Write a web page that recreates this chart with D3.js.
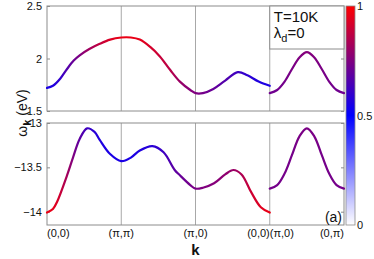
<!DOCTYPE html>
<html>
<head>
<meta charset="utf-8">
<script src="https://cdn.jsdelivr.net/npm/d3@7"></script>
<style>
  body { margin: 0; background: #fff; }
  svg { display: block; font-family: "Liberation Sans", Arial, sans-serif; }
</style>
</head>
<body>
<svg id="chart"></svg>
<script>
// path through the zone: (0,0) -> (pi,pi) -> (pi,0) -> (0,0) | (pi,0) -> (0,pi)
var kTickPos = [0, 1, 2, 3, 3, 4];
var kTickLabels = ["(0,0)", "(π,π)", "(π,0)", "(0,0)", "(π,0)", "(0,π)"];
var kTickAnchor = ["start", "middle", "middle", "end", "start", "end"];

// upper band, first section (k 0..3)
var kUpA = [0, 0.08, 0.18, 0.27, 0.36, 0.44, 0.57, 0.71, 0.85, 1.0, 1.13, 1.25, 1.39, 1.52, 1.66, 1.79, 1.93, 2.0, 2.1, 2.24, 2.4, 2.57, 2.7, 2.85, 3.0];
var eUpA = [1.72, 1.74, 1.81, 1.90, 1.98, 2.03, 2.09, 2.14, 2.18, 2.20, 2.20, 2.18, 2.11, 2.02, 1.89, 1.78, 1.70, 1.67, 1.67, 1.71, 1.79, 1.87, 1.84, 1.78, 1.74];
var wUpA = [0.55, 0.56, 0.6, 0.66, 0.71, 0.75, 0.82, 0.88, 0.93, 0.96, 0.96, 0.95, 0.92, 0.89, 0.86, 0.8, 0.76, 0.75, 0.73, 0.7, 0.66, 0.62, 0.59, 0.56, 0.55];

// upper band, second section (k 3..4)
var kB = [3.0, 3.1, 3.2, 3.3, 3.4, 3.5, 3.6, 3.7, 3.8, 3.9, 4.0];
var eUpB = [1.67, 1.70, 1.78, 1.90, 2.01, 2.06, 2.01, 1.90, 1.78, 1.70, 1.67];
var wUpB = [0.72, 0.72, 0.73, 0.74, 0.75, 0.76, 0.75, 0.74, 0.73, 0.72, 0.72];

// lower band, first section
var kLoA = [0, 0.08, 0.135, 0.27, 0.35, 0.44, 0.54, 0.64, 0.71, 0.85, 1.0, 1.13, 1.25, 1.42, 1.57, 1.72, 1.79, 1.93, 2.0, 2.1, 2.25, 2.4, 2.51, 2.62, 2.75, 2.88, 3.0];
var eLoA = [-14.01, -13.97, -13.89, -13.59, -13.39, -13.18, -13.06, -13.10, -13.19, -13.35, -13.43, -13.39, -13.31, -13.26, -13.33, -13.53, -13.59, -13.70, -13.74, -13.73, -13.68, -13.58, -13.53, -13.58, -13.78, -13.95, -14.01];
var wLoA = [0.96, 0.95, 0.93, 0.82, 0.75, 0.68, 0.62, 0.58, 0.56, 0.55, 0.55, 0.55, 0.56, 0.58, 0.62, 0.68, 0.7, 0.73, 0.74, 0.75, 0.76, 0.78, 0.8, 0.84, 0.9, 0.94, 0.96];

// lower band, second section
var eLoB = [-13.74, -13.70, -13.57, -13.36, -13.15, -13.06, -13.15, -13.36, -13.57, -13.70, -13.74];
var wLoB = [0.73, 0.73, 0.73, 0.73, 0.74, 0.74, 0.74, 0.73, 0.73, 0.73, 0.73];

var topTicks = [1.5, 2, 2.5];
var botTicks = [-14, -13.5, -13];
var cbarTicks = [0, 0.5, 1];

var width = 374, height = 259;
var frameColor = "#8c8c8c";

var svg = d3.select("#chart").attr("width", width).attr("height", height);
var defs = svg.append("defs");

var x = d3.scaleLinear().domain([0, 4]).range([47, 344]);
var yTop = d3.scaleLinear().domain([1.5, 2.5]).range([111, 6]);
var yBot = d3.scaleLinear().domain([-14.15, -13]).range([225, 123]);
var color = d3.scaleLinear().domain([0, 0.5, 1]).range(["#ffffff", "#0000ff", "#ff0000"]);
var yCbar = d3.scaleLinear().domain([0, 1]).range([225, 6]);

var fmt = d3.format("~g");

function panel(y, ticks) {
  var g = svg.append("g");
  // vertical lines at the symmetry points
  g.selectAll("line.sym")
    .data([1, 2, 3])
    .enter()
    .append("line")
    .attr("x1", function (d) { return x(d); })
    .attr("x2", function (d) { return x(d); })
    .attr("y1", y.range()[0])
    .attr("y2", y.range()[1])
    .attr("stroke", "#a8a8a8")
    .attr("stroke-width", 1);

  var left = g.append("g")
    .attr("transform", "translate(" + x(0) + ",0)")
    .call(d3.axisLeft(y).tickValues(ticks).tickFormat(fmt).tickSize(-3).tickPadding(5));
  left.select(".domain").remove();
  left.selectAll("line").attr("stroke", frameColor);
  left.selectAll("text").attr("font-size", 11).attr("fill", "#111")
    .attr("font-family", "Liberation Sans, Arial, sans-serif");

  var right = g.append("g")
    .attr("transform", "translate(" + x(4) + ",0)")
    .call(d3.axisRight(y).tickValues(ticks).tickSize(-3).tickFormat(""));
  right.select(".domain").remove();
  right.selectAll("line").attr("stroke", frameColor);

  g.append("rect")
    .attr("x", x(0))
    .attr("y", y.range()[1])
    .attr("width", x(4) - x(0))
    .attr("height", y.range()[0] - y.range()[1])
    .attr("fill", "none")
    .attr("stroke", frameColor)
    .attr("stroke-width", 1);
  return g;
}

var gTop = panel(yTop, topTicks);
var gBot = panel(yBot, botTicks);

// text box in the upper panel
gTop.append("rect")
  .attr("x", x(3))
  .attr("y", yTop(2.5))
  .attr("width", x(4) - x(3))
  .attr("height", 43)
  .attr("fill", "#fff")
  .attr("stroke", frameColor);

var gradId = 0;
function band(g, y, ks, es, ws) {
  var id = "grad" + (gradId++);
  var x1 = x(ks[0]), x2 = x(ks[ks.length - 1]);
  var grad = defs.append("linearGradient")
    .attr("id", id)
    .attr("gradientUnits", "userSpaceOnUse")
    .attr("x1", x1).attr("x2", x2)
    .attr("y1", 0).attr("y2", 0);
  grad.selectAll("stop")
    .data(ks)
    .enter()
    .append("stop")
    .attr("offset", function (d) { return (x(d) - x1) / (x2 - x1); })
    .attr("stop-color", function (d, i) { return color(ws[i]); });

  var line = d3.line()
    .x(function (d) { return x(d); })
    .y(function (d, i) { return y(es[i]); })
    .curve(d3.curveCatmullRom.alpha(0.5));

  g.append("path")
    .datum(ks)
    .attr("d", line)
    .attr("fill", "none")
    .attr("stroke", "url(#" + id + ")")
    .attr("stroke-width", 2.2)
    .attr("stroke-linecap", "round");
}

band(gTop, yTop, kUpA, eUpA, wUpA);
band(gTop, yTop, kB, eUpB, wUpB);
band(gBot, yBot, kLoA, eLoA, wLoA);
band(gBot, yBot, kB, eLoB, wLoB);

// box text
gTop.append("text")
  .attr("x", x(3) + 4)
  .attr("y", 22)
  .attr("font-size", 15)
  .attr("fill", "#111")
  .text("T=10K");
var lam = gTop.append("text")
  .attr("x", x(3) + 4)
  .attr("y", 38)
  .attr("font-size", 15)
  .attr("fill", "#111");
lam.append("tspan").text("λ");
lam.append("tspan").attr("font-size", 11).attr("dy", 4).text("d");
lam.append("tspan").attr("dy", -4).text("=0");

gBot.append("text")
  .attr("x", x(4) - 2)
  .attr("y", 222)
  .attr("text-anchor", "end")
  .attr("font-size", 14)
  .attr("fill", "#111")
  .text("(a)");

// k-point labels
svg.selectAll("text.klab")
  .data(kTickLabels)
  .enter()
  .append("text")
  .attr("class", "klab")
  .attr("x", function (d, i) { return x(kTickPos[i]); })
  .attr("y", 237)
  .attr("text-anchor", function (d, i) { return kTickAnchor[i]; })
  .attr("font-size", 11)
  .attr("fill", "#111")
  .text(function (d) { return d; });

svg.append("text")
  .attr("x", (x(0) + x(4)) / 2)
  .attr("y", 255)
  .attr("text-anchor", "middle")
  .attr("font-size", 15)
  .attr("font-weight", "bold")
  .attr("fill", "#111")
  .text("k");

// y label
var ylab = svg.append("text")
  .attr("transform", "translate(27,113) rotate(-90)")
  .attr("text-anchor", "middle")
  .attr("font-size", 14)
  .attr("fill", "#111");
ylab.append("tspan").text("ω");
ylab.append("tspan").attr("font-size", 11).attr("font-weight", "bold").attr("dy", 4).text("k");
ylab.append("tspan").attr("dy", -4).text(" (eV)");

// colour bar
var cg = defs.append("linearGradient")
  .attr("id", "cbar")
  .attr("x1", 0).attr("x2", 0)
  .attr("y1", 1).attr("y2", 0);
cg.selectAll("stop")
  .data(cbarTicks)
  .enter()
  .append("stop")
  .attr("offset", function (d) { return d; })
  .attr("stop-color", function (d) { return color(d); });

svg.append("rect")
  .attr("x", 346)
  .attr("y", yCbar(1))
  .attr("width", 9)
  .attr("height", yCbar(0) - yCbar(1))
  .attr("fill", "url(#cbar)")
  .attr("stroke", frameColor)
  .attr("stroke-width", 0.8);

svg.selectAll("text.cb")
  .data(cbarTicks)
  .enter()
  .append("text")
  .attr("class", "cb")
  .attr("x", 357)
  .attr("y", function (d) { return yCbar(d) + 4; })
  .attr("font-size", 11)
  .attr("fill", "#111")
  .text(function (d) { return fmt(d); });
</script>
</body>
</html>
